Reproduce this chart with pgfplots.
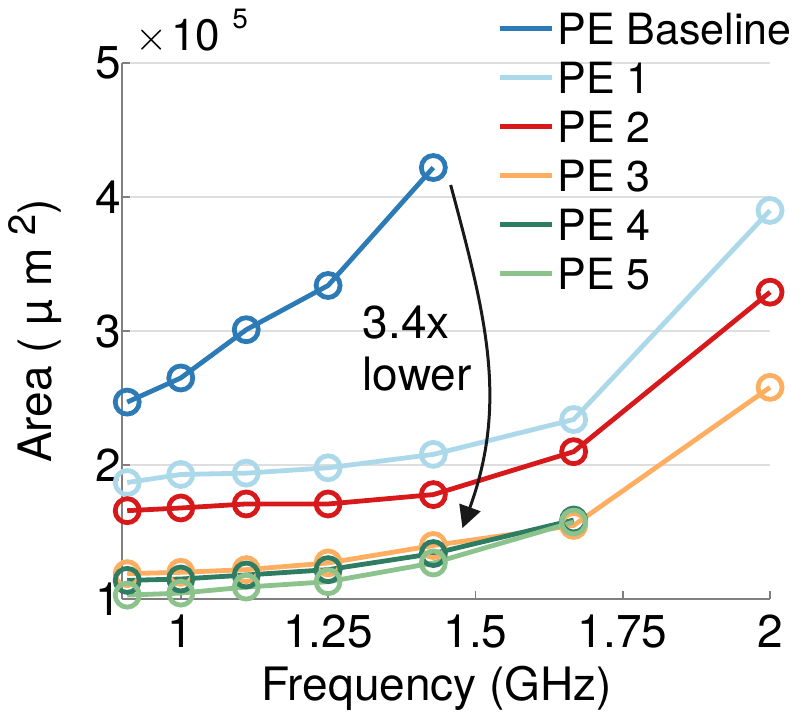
\documentclass[border=0pt]{standalone}
\usepackage{fontspec}
\setmainfont{TeX Gyre Heros}
\usepackage{pgfplots}
\pgfplotsset{compat=1.18}
\usetikzlibrary{arrows.meta}
\definecolor{cBase}{HTML}{2C7BB6}
\definecolor{cOne}{HTML}{ABD9E9}
\definecolor{cTwo}{HTML}{D7191C}
\definecolor{cThree}{HTML}{FDAE61}
\definecolor{cFour}{HTML}{2E7D63}
\definecolor{cFive}{HTML}{8CC28C}
\definecolor{axgray}{HTML}{808080}
\definecolor{grgray}{HTML}{DEDEDE}
\newcommand{\bigfont}{\fontsize{23}{25}\selectfont}
\newcommand{\legfont}{\fontsize{21.5}{24}\selectfont}

\begin{document}
\begin{tikzpicture}
\begin{axis}[
  width=324pt, height=268pt, scale only axis,
  xmin=0.9, xmax=2, ymin=1, ymax=5,
  axis x line=bottom, axis y line=left,
  axis line style={-, draw=axgray, line width=0.8pt},
  xtick={1,1.25,1.5,1.75,2}, xticklabels={1,1.25,1.5,1.75,2},
  ytick={1,2,3,4,5}, yticklabels={1,2,3,4,5},
  tick align=inside, major tick length=4pt,
  tick style={axgray, line width=0.8pt},
  ymajorgrids, grid style={grgray, line width=0.6pt},
  ticklabel style={font=\bigfont},
  xticklabel style={yshift=-4.5pt},
  yticklabel style={xshift=3pt},
  xlabel={Frequency (GHz)},
  ylabel={Area ( µ  m \raisebox{8pt}{\fontsize{19}{20}\selectfont 2})},
  label style={font=\bigfont},
  xlabel style={at={(rel axis cs:0.486,-0.166)}, anchor=center},
  ylabel style={at={(rel axis cs:-0.134,0.5)}, anchor=center},
  clip=false,
  every axis plot/.append style={line width=2.4pt, mark=o, mark size=6pt, mark options={line width=2.4pt}},
  legend style={at={(rel axis cs:0.579,1.111)}, anchor=north west, draw=none, fill=none,
    font=\legfont, row sep=0pt, inner sep=0pt,
    nodes={text height=16pt, text depth=0pt, inner ysep=4.25pt, inner xsep=1.5pt}},
  legend cell align=left,
  legend image code/.code={\draw[#1] (0pt,0pt) -- (26pt,0pt);},
]
\addplot[cBase] coordinates {(0.9091,2.47) (1,2.65) (1.1111,3.01) (1.25,3.34) (1.4286,4.22)};
\addlegendentry{PE Baseline}
\addplot[cOne] coordinates {(0.9091,1.87) (1,1.93) (1.1111,1.94) (1.25,1.98) (1.4286,2.08) (1.6667,2.34) (2,3.90)};
\addlegendentry{PE 1}
\addplot[cTwo] coordinates {(0.9091,1.66) (1,1.68) (1.1111,1.71) (1.25,1.71) (1.4286,1.78) (1.6667,2.10) (2,3.29)};
\addlegendentry{PE 2}
\addplot[cThree] coordinates {(0.9091,1.19) (1,1.20) (1.1111,1.22) (1.25,1.27) (1.4286,1.40) (1.6667,1.55) (2,2.58)};
\addlegendentry{PE 3}
\addplot[cFour] coordinates {(0.9091,1.14) (1,1.15) (1.1111,1.18) (1.25,1.22) (1.4286,1.34) (1.6667,1.59)};
\addlegendentry{PE 4}
\addplot[cFive] coordinates {(0.9091,1.03) (1,1.045) (1.1111,1.09) (1.25,1.13) (1.4286,1.27) (1.6667,1.575)};
\addlegendentry{PE 5}
% x10^5 multiplier
\node[anchor=base west, font=\fontsize{22}{24}\selectfont, inner sep=0pt] at (rel axis cs:0.02,1.024)
  {$\times$\hspace{2pt}10\hspace{6pt}\raisebox{11pt}{\fontsize{14}{15}\selectfont 5}};
% annotation
\node[anchor=north west, font=\bigfont, align=left, inner sep=0pt] at (axis cs:1.308,3.19) {3.4x\\[1pt]lower};
\draw[black!90, line width=1.5pt, -{Triangle[length=11pt, width=11pt]}]
  (axis cs:1.458,4.09) to[out=-75, in=70] (axis cs:1.478,1.53);
% keep the reference's margins
\path (rel axis cs:-0.188,-0.235) rectangle (rel axis cs:1.057,1.1175);
\end{axis}
\end{tikzpicture}
\end{document}
